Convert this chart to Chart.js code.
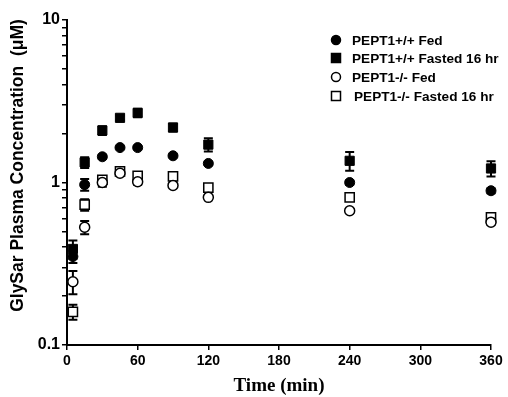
<!DOCTYPE html>
<html>
<head>
<meta charset="utf-8">
<script src="https://cdn.jsdelivr.net/npm/chart.js@4.4.0/dist/chart.umd.min.js"></script>
<style>
  html, body { margin: 0; padding: 0; background: #fff; }
  #wrap { width: 508px; height: 397px; }
</style>
</head>
<body>
<div id="wrap"><canvas id="myChart"></canvas></div>
<script>
"use strict";
// time points (min)
const Times = [5, 15, 30, 45, 60, 90, 120, 240, 360];

// GlySar plasma concentration (uM)
const WtFed = [0.35, 0.97, 1.44, 1.64, 1.64, 1.46, 1.31, 1.00, 0.89];
const WtFedErr = [0.03, 0.08, 0.04, 0.03, 0.03, 0.03, 0.03, 0.03, 0.03];
const WtFasted = [0.39, 1.33, 2.09, 2.50, 2.68, 2.18, 1.71, 1.36, 1.22];
const WtFastedErr = [0.05, 0.10, 0.13, 0.08, 0.16, 0.12, 0.16, 0.18, 0.13];
const KoFed = [0.245, 0.53, 1.00, 1.14, 1.01, 0.96, 0.81, 0.67, 0.57];
const KoFedErr = [0.04, 0.05, 0.06, 0.03, 0.04, 0.02, 0.02, 0.02, 0.02];
const KoFasted = [0.16, 0.73, 1.04, 1.17, 1.10, 1.09, 0.93, 0.81, 0.61];
const KoFastedErr = [0.017, 0.06, 0.05, 0.04, 0.06, 0.03, 0.03, 0.03, 0.03];

const Labels = ["PEPT1+/+ Fed", "PEPT1+/+ Fasted 16 hr", "PEPT1-/- Fed", "PEPT1-/- Fasted 16 hr"];
const XTicks = [0, 60, 120, 180, 240, 300, 360];
const YLabels = [0.1, 1, 10];

function toPoints(vals) {
    return Times.map((t, i) => ({x: t, y: vals[i]}));
}

// error bars drawn under the markers
const errorBars = {
    id: 'errorBars',
    beforeDatasetsDraw(chart) {
        const ctx = chart.ctx;
        const xs = chart.scales.x, ys = chart.scales.y;
        ctx.save();
        ctx.strokeStyle = '#000';
        ctx.lineWidth = 2;
        chart.data.datasets.forEach(ds => {
            ds.errors.forEach((e, i) => {
                const px = xs.getPixelForValue(ds.data[i].x);
                const top = ys.getPixelForValue(ds.data[i].y + e);
                const bot = ys.getPixelForValue(ds.data[i].y - e);
                ctx.beginPath();
                ctx.moveTo(px, top); ctx.lineTo(px, bot);
                ctx.moveTo(px - 4.5, top); ctx.lineTo(px + 4.5, top);
                ctx.moveTo(px - 4.5, bot); ctx.lineTo(px + 4.5, bot);
                ctx.stroke();
            });
        });
        ctx.restore();
    }
};

// legend inside the plot, top right
const innerLegend = {
    id: 'innerLegend',
    afterDraw(chart) {
        const ctx = chart.ctx;
        ctx.save();
        ctx.font = 'bold 13.6px "Liberation Sans", Arial, sans-serif';
        ctx.textBaseline = 'middle';
        const rows = [40, 58, 77, 96];
        const textX = [352, 352, 352, 354];
        chart.data.datasets.forEach((ds, i) => {
            const y = rows[i];
            const x = 336;
            ctx.lineWidth = 1.5;
            ctx.strokeStyle = '#000';
            ctx.fillStyle = ds.backgroundColor;
            ctx.beginPath();
            if (ds.pointStyle === 'circle') {
                ctx.arc(x, y, 4.5, 0, Math.PI * 2);
            } else {
                ctx.rect(x - 4.5, y - 4.5, 9, 9);
            }
            ctx.fill();
            ctx.stroke();
            ctx.fillStyle = '#000';
            ctx.fillText(ds.label, textX[i], y + 1);
        });
        ctx.restore();
    }
};

const data = {
    datasets: [
        {label: Labels[0], data: toPoints(WtFed), errors: WtFedErr, pointStyle: 'circle', clip: false,
         pointRadius: 5, backgroundColor: '#000', borderColor: '#000', borderWidth: 1},
        {label: Labels[1], data: toPoints(WtFasted), errors: WtFastedErr, pointStyle: 'rect', clip: false,
         pointRadius: 6.5, backgroundColor: '#000', borderColor: '#000', borderWidth: 1},
        {label: Labels[2], data: toPoints(KoFed), errors: KoFedErr, pointStyle: 'circle', clip: false,
         pointRadius: 5, backgroundColor: '#fff', borderColor: '#000', borderWidth: 1.5},
        {label: Labels[3], data: toPoints(KoFasted), errors: KoFastedErr, pointStyle: 'rect', clip: false,
         pointRadius: 6.5, backgroundColor: '#fff', borderColor: '#000', borderWidth: 1.5}
    ]
};

const config = {
    type: 'scatter',
    data: data,
    options: {
        responsive: true,
        maintainAspectRatio: false,
        animation: false,
        layout: {padding: {left: 0, right: 17, top: 20, bottom: 0}},
        plugins: {legend: {display: false}, tooltip: {enabled: false}},
        scales: {
            x: {
                type: 'linear', min: 0, max: 360,
                afterBuildTicks: s => { s.ticks = XTicks.map(v => ({value: v})); },
                afterFit: s => { s.height = 52; },
                border: {color: '#000', width: 2},
                grid: {drawOnChartArea: false, color: '#000', lineWidth: 1.5, tickLength: 5},
                ticks: {color: '#000', padding: 3, maxRotation: 0,
                        font: {family: '"Liberation Sans", Arial', weight: 'bold', size: 14}},
                title: {display: true, text: 'Time (min)', color: '#000', padding: {top: 4, bottom: 0},
                        font: {family: '"Liberation Serif", "Times New Roman"', weight: 'bold', size: 19}}
            },
            y: {
                type: 'logarithmic', min: 0.1, max: 10,
                afterBuildTicks: s => {
                    const t = [];
                    [0.1, 1].forEach(d => { for (let k = 1; k < 10; k++) t.push({value: +(d * k).toFixed(2)}); });
                    t.push({value: 10});
                    s.ticks = t;
                },
                afterFit: s => { s.width = 67; },
                border: {color: '#000', width: 2},
                grid: {drawOnChartArea: false, color: '#000', lineWidth: 1.5, tickLength: 5},
                ticks: {color: '#000', padding: 2, autoSkip: false,
                        callback: v => YLabels.includes(v) ? String(v) : '',
                        font: {family: '"Liberation Sans", Arial', weight: 'bold', size: 16}},
                title: {display: true, text: '       GlySar Plasma Concentration  (\u03bcM)', color: '#000',
                        padding: {top: 8, bottom: 0},
                        font: {family: '"Liberation Sans", Arial', weight: 'bold', size: 17.5}}
            }
        }
    },
    plugins: [errorBars, innerLegend]
};

const myChart = new Chart(document.getElementById('myChart'), config);
</script>
</body>
</html>
